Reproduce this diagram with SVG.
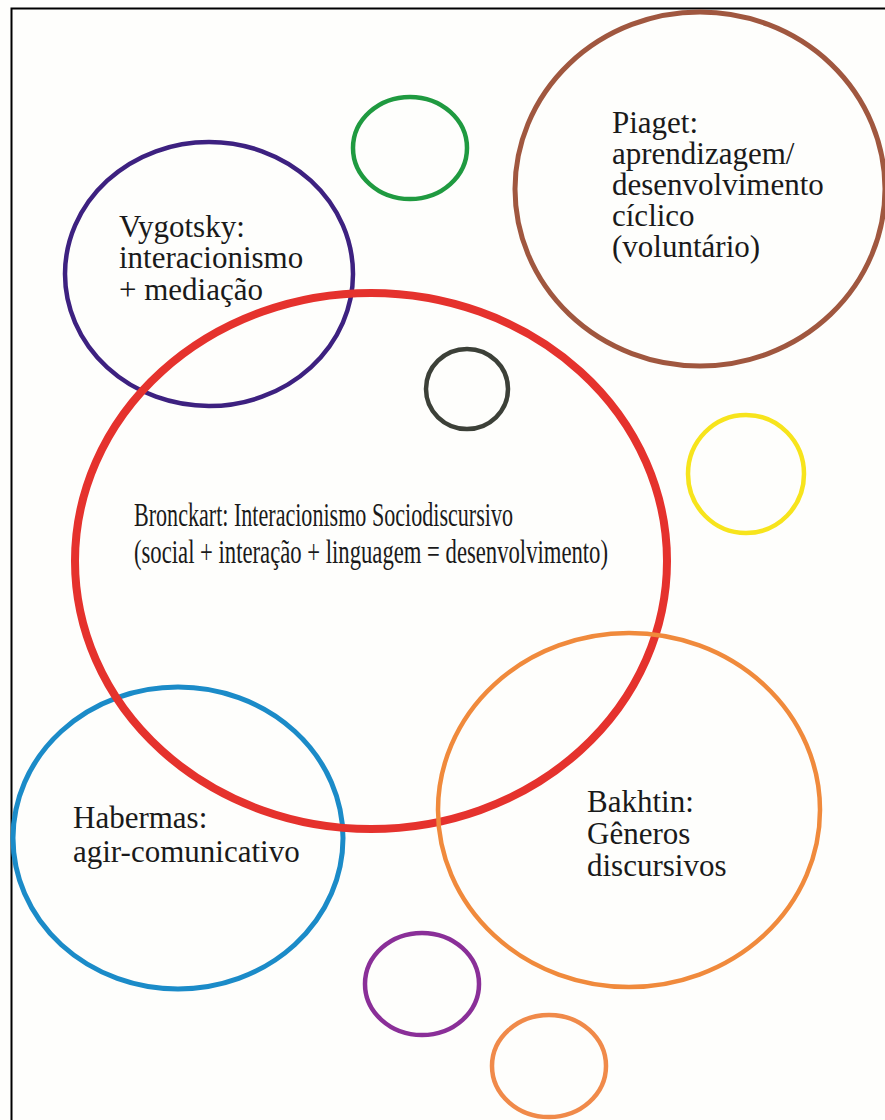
<svg xmlns="http://www.w3.org/2000/svg" width="885" height="1120" viewBox="0 0 885 1120">
<style>
.c{fill:none}
.t{font-family:'Liberation Serif','DejaVu Serif',serif;font-size:31px;fill:#1a1a1a}
</style>
<rect width="885" height="1120" fill="#fefefc"/>
<path d="M11.5,1120 V8.5 H885" fill="none" stroke="#000" stroke-width="2"/>
<g id="vygotsky">
<ellipse class="c" cx="209" cy="274" rx="144" ry="132" stroke="#3d2180" stroke-width="4.5"/>
<text class="t"><tspan x="119" y="237">Vygotsky:</tspan><tspan x="119" y="268">interacionismo</tspan><tspan x="119" y="300">+ mediação</tspan></text>
</g>
<g id="habermas">
<ellipse class="c" cx="178" cy="838" rx="165" ry="151" stroke="#1b8bc8" stroke-width="5"/>
<text class="t"><tspan x="73" y="828">Habermas:</tspan><tspan x="73" y="862">agir-comunicativo</tspan></text>
</g>
<g id="bronckart">
<ellipse class="c" cx="371" cy="561" rx="296" ry="268" stroke="#e5322d" stroke-width="8"/>
<text class="t" style="font-size:34px"><tspan x="134" y="526" textLength="379" lengthAdjust="spacingAndGlyphs">Bronckart: Interacionismo Sociodiscursivo</tspan><tspan x="134" y="563" textLength="474" lengthAdjust="spacingAndGlyphs">(social + interação + linguagem = desenvolvimento)</tspan></text>
</g>
<g id="piaget">
<ellipse class="c" cx="700" cy="189" rx="185" ry="177" stroke="#a0573f" stroke-width="5"/>
<text class="t"><tspan x="612" y="133">Piaget:</tspan><tspan x="612" y="164">aprendizagem/</tspan><tspan x="612" y="195">desenvolvimento</tspan><tspan x="612" y="226">cíclico</tspan><tspan x="612" y="257">(voluntário)</tspan></text>
</g>
<g id="bakhtin">
<ellipse class="c" cx="629" cy="810" rx="191" ry="177" stroke="#f08a3c" stroke-width="4.5"/>
<text class="t"><tspan x="587" y="812">Bakhtin:</tspan><tspan x="587" y="844">Gêneros</tspan><tspan x="587" y="876">discursivos</tspan></text>
</g>
<g id="green">
<ellipse class="c" cx="410" cy="148" rx="57" ry="51" stroke="#1f9a40" stroke-width="4.5"/>
</g>
<g id="grey">
<ellipse class="c" cx="467" cy="389" rx="41" ry="40" stroke="#3c4038" stroke-width="4.5"/>
</g>
<g id="yellow">
<ellipse class="c" cx="746" cy="474" rx="58" ry="59" stroke="#f7e41c" stroke-width="4.5"/>
</g>
<g id="purple-small">
<ellipse class="c" cx="422" cy="984" rx="57" ry="51" stroke="#8a2f98" stroke-width="4.5"/>
</g>
<g id="orange-small">
<ellipse class="c" cx="549" cy="1066" rx="57" ry="51" stroke="#f08a4a" stroke-width="4.5"/>
</g>
<g id="connectors"></g>
</svg>
